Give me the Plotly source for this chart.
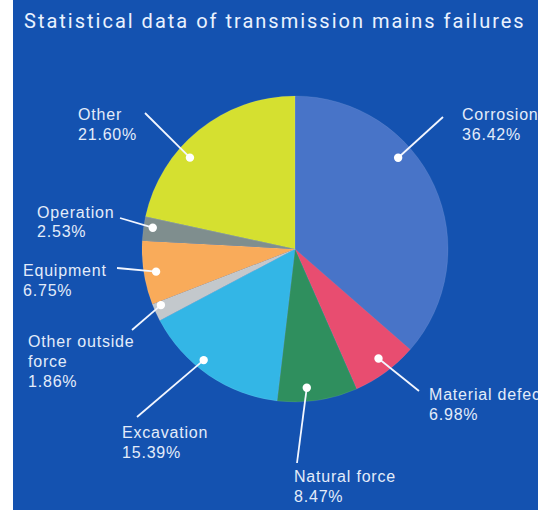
import math
import plotly.graph_objects as go

# ---- data ----
categories = ["Corrosion", "Material defect", "Natural force", "Excavation",
              "Other outside force", "Equipment", "Operation", "Other"]
percentages = [36.42, 6.98, 8.47, 15.39, 1.86, 6.75, 2.53, 21.60]
colors = ["#4874c8", "#e84d70", "#2f8f5e", "#33b6e6",
          "#c3c8cc", "#f9ab5a", "#7f8e8e", "#d5e030"]
title_text = "Statistical data of transmission mains failures"

# ---- layout helpers (pixel space of the 538x510 canvas) ----
W, H = 538, 510
CX, CY, R = 295, 249, 153
BG = "#1452b0"
TXT = "#e3ecfa"

def px(x):
    return x / W

def py(y):
    return 1 - y / H

# where each callout dot sits inside its slice (fraction of slice angle, fraction of radius)
dot_angle_frac = [0.37, 0.46, 0.62, 0.59, 0.77, 0.49, 0.59, 0.37]
dot_radius_frac = [0.90, 0.90, 0.91, 0.94, 0.95, 0.92, 0.94, 0.91]
# label placement: text left x, first line cap-middle y, leader-line end point
label_pos = [(461, 115), (428, 394), (293, 476), (121, 432),
             (27, 341), (22, 270), (36, 212), (77, 115)]
leader_end = [(443, 117), (419, 391), (297, 463), (137, 417),
              (132, 330), (117, 268), (120, 218), (145, 113)]
display_names = ["Corrosion", "Material defect", "Natural force", "Excavation",
                 "Other outside<br>force", "Equipment", "Operation", "Other"]
FONT = "Liberation Sans, Arial, sans-serif"
FS = 16
LINE_H = 20

def spaced(t, sp):
    return f'<span style="letter-spacing:{sp}px">{t}</span>'

fig = go.Figure()
fig.add_trace(go.Pie(
    labels=categories, values=percentages, sort=False, direction="clockwise",
    rotation=0, marker=dict(colors=colors, line=dict(color="rgba(255,255,255,0.15)", width=0.6)),
    textinfo="none", hoverinfo="label+percent", showlegend=False,
    domain=dict(x=[px(CX - R), px(CX + R)], y=[py(CY + R), py(CY - R)]),
))

shapes = [dict(type="rect", xref="paper", yref="paper", x0=px(13), x1=1, y0=0, y1=1,
               fillcolor=BG, line=dict(width=0), layer="below")]
annotations = [dict(text=spaced(title_text, 2), xref="paper", yref="paper", x=px(22), y=py(21),
                    xanchor="left", yanchor="middle", showarrow=False,
                    font=dict(family="Roboto, sans-serif", size=20, color="#eaf2ff"))]

total = sum(percentages)
cum = 0.0
for i, v in enumerate(percentages):
    start = cum / total * 360
    span = v / total * 360
    cum += v
    ang = math.radians(start + span * dot_angle_frac[i])
    rr = R * dot_radius_frac[i]
    dx_ = CX + rr * math.sin(ang)
    dy_ = CY - rr * math.cos(ang)
    ex, ey = leader_end[i]
    shapes.append(dict(type="line", xref="paper", yref="paper",
                       x0=px(dx_), y0=py(dy_), x1=px(ex), y1=py(ey),
                       line=dict(color="#f2f6ff", width=1.8), layer="above"))
    shapes.append(dict(type="circle", xref="paper", yref="paper",
                       x0=px(dx_ - 4.2), x1=px(dx_ + 4.2), y0=py(dy_ + 4.2), y1=py(dy_ - 4.2),
                       fillcolor="#ffffff", line=dict(width=0), layer="above"))
    lines = display_names[i].split("<br>") + [f"{v:.2f}%"]
    lx, ly = label_pos[i]
    for k, t in enumerate(lines):
        annotations.append(dict(text=spaced(t, 0.8), xref="paper", yref="paper",
                                x=px(lx - 1), y=py(ly + k * LINE_H), xanchor="left",
                                yanchor="middle", showarrow=False,
                                font=dict(family=FONT, size=FS, color=TXT)))

fig.update_layout(
    width=W, height=H, margin=dict(l=0, r=0, t=0, b=0),
    paper_bgcolor="#ffffff", plot_bgcolor="#ffffff",
    shapes=shapes, annotations=annotations,
)
fig.write_html("out.html", config={"displayModeBar": False},
               post_script="document.body.style.margin='0';document.body.style.overflow='hidden';")
